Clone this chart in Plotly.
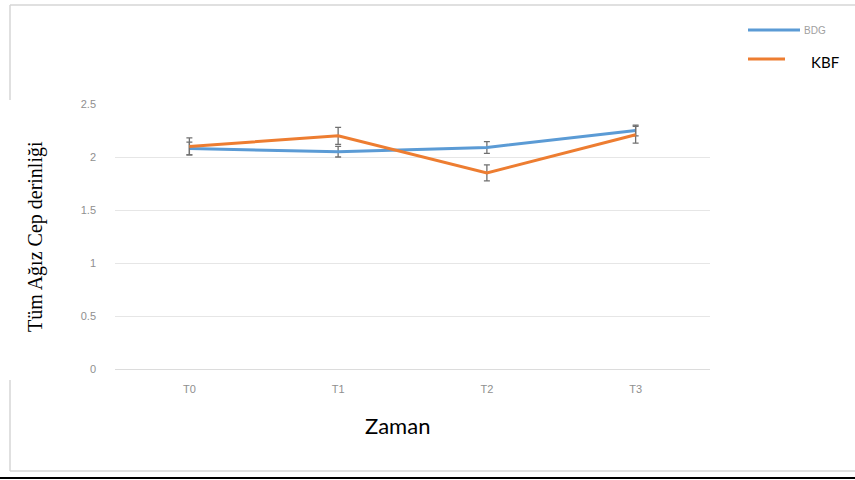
import plotly.graph_objects as go

categories = ["T0", "T1", "T2", "T3"]
bdg_values = [2.08, 2.05, 2.09, 2.25]
bdg_err = [0.06, 0.05, 0.055, 0.05]
kbf_values = [2.10, 2.20, 1.85, 2.21]
kbf_err = [0.08, 0.08, 0.075, 0.08]
y_ticks = [0, 0.5, 1, 1.5, 2, 2.5]
y_ticklabels = ["0", "0.5", "1", "1.5", "2", "2.5"]

BLUE = "#5B9BD5"
ORANGE = "#ED7D31"

fig = go.Figure()
fig.add_trace(go.Scatter(
    x=categories, y=bdg_values, mode="lines", name="BDG",
    line=dict(color=BLUE, width=3),
    error_y=dict(type="data", array=bdg_err, color="#707070", thickness=1.3, width=3),
))
fig.add_trace(go.Scatter(
    x=categories, y=kbf_values, mode="lines", name="KBF",
    line=dict(color=ORANGE, width=3),
    error_y=dict(type="data", array=kbf_err, color="#707070", thickness=1.3, width=3),
))

# screen px -> paper coords (plot area spans x 115..710, y 104..369)
def px_x(px):
    return (px - 115) / 595.0

def px_y(py):
    return (369 - py) / 265.0

shapes = [
    dict(type="line", xref="paper", yref="paper", x0=px_x(10), x1=px_x(860), y0=px_y(5), y1=px_y(5),
         line=dict(color="#d6d6d6", width=1.5)),
    dict(type="line", xref="paper", yref="paper", x0=px_x(10), x1=px_x(860), y0=px_y(471), y1=px_y(471),
         line=dict(color="#d6d6d6", width=1.5)),
    dict(type="line", xref="paper", yref="paper", x0=px_x(10), x1=px_x(10), y0=px_y(5), y1=px_y(100),
         line=dict(color="#d6d6d6", width=1.5)),
    dict(type="line", xref="paper", yref="paper", x0=px_x(10), x1=px_x(10), y0=px_y(380), y1=px_y(471),
         line=dict(color="#d6d6d6", width=1.5)),
    dict(type="line", xref="paper", yref="paper", x0=px_x(0), x1=px_x(860), y0=px_y(478), y1=px_y(478),
         line=dict(color="#000", width=2)),
    dict(type="line", xref="paper", yref="paper", x0=px_x(748), x1=px_x(800), y0=px_y(30), y1=px_y(30),
         line=dict(color=BLUE, width=3)),
    dict(type="line", xref="paper", yref="paper", x0=px_x(748), x1=px_x(785), y0=px_y(59), y1=px_y(59),
         line=dict(color=ORANGE, width=3)),
]

annotations = [
    dict(text="BDG", xref="paper", yref="paper", x=px_x(802), y=px_y(30), xanchor="left", yanchor="middle",
         showarrow=False, font=dict(size=10, color="#a0a0a0", family="Liberation Sans, Arial, sans-serif")),
    dict(text="KBF", xref="paper", yref="paper", x=px_x(809), y=px_y(62), xanchor="left", yanchor="middle",
         showarrow=False, font=dict(size=15, color="#000", family="Lato, Open Sans, sans-serif")),
    dict(text="Zaman", xref="paper", yref="paper", x=px_x(397), y=px_y(425), xanchor="center", yanchor="middle",
         showarrow=False, font=dict(size=22, color="#000", family="Lato, Open Sans, sans-serif")),
    dict(text="Tüm Ağız Cep derinliği", xref="paper", yref="paper", x=px_x(35), y=px_y(237),
         xanchor="center", yanchor="middle", textangle=-90,
         showarrow=False, font=dict(size=20, color="#000", family="Liberation Serif, Times New Roman, serif")),
]

fig.update_layout(
    width=855, height=480,
    margin=dict(l=115, r=145, t=104, b=111, autoexpand=False),
    paper_bgcolor="white", plot_bgcolor="white",
    font=dict(family="Liberation Sans, Arial, sans-serif", color="#000"),
    showlegend=False,
    hovermode=False,
    xaxis=dict(
        type="category", range=[-0.5, 3.5], showgrid=False, showline=True, linecolor="#dcdcdc", linewidth=1,
        ticks="", tickfont=dict(size=11, color="#8f8f8f"), ticklabelstandoff=10,
    ),
    yaxis=dict(
        range=[0, 2.5], tickvals=y_ticks, ticktext=y_ticklabels,
        showgrid=True, gridcolor="#e6e6e6", gridwidth=1, zeroline=False,
        showline=False, ticks="", ticklabelstandoff=18,
        tickfont=dict(size=11, color="#8f8f8f"),
    ),
    shapes=shapes,
    annotations=annotations,
)

fig.write_html("out.html", config={"displayModeBar": False},
               post_script="document.body.style.margin='0';document.body.style.overflow='hidden';")
